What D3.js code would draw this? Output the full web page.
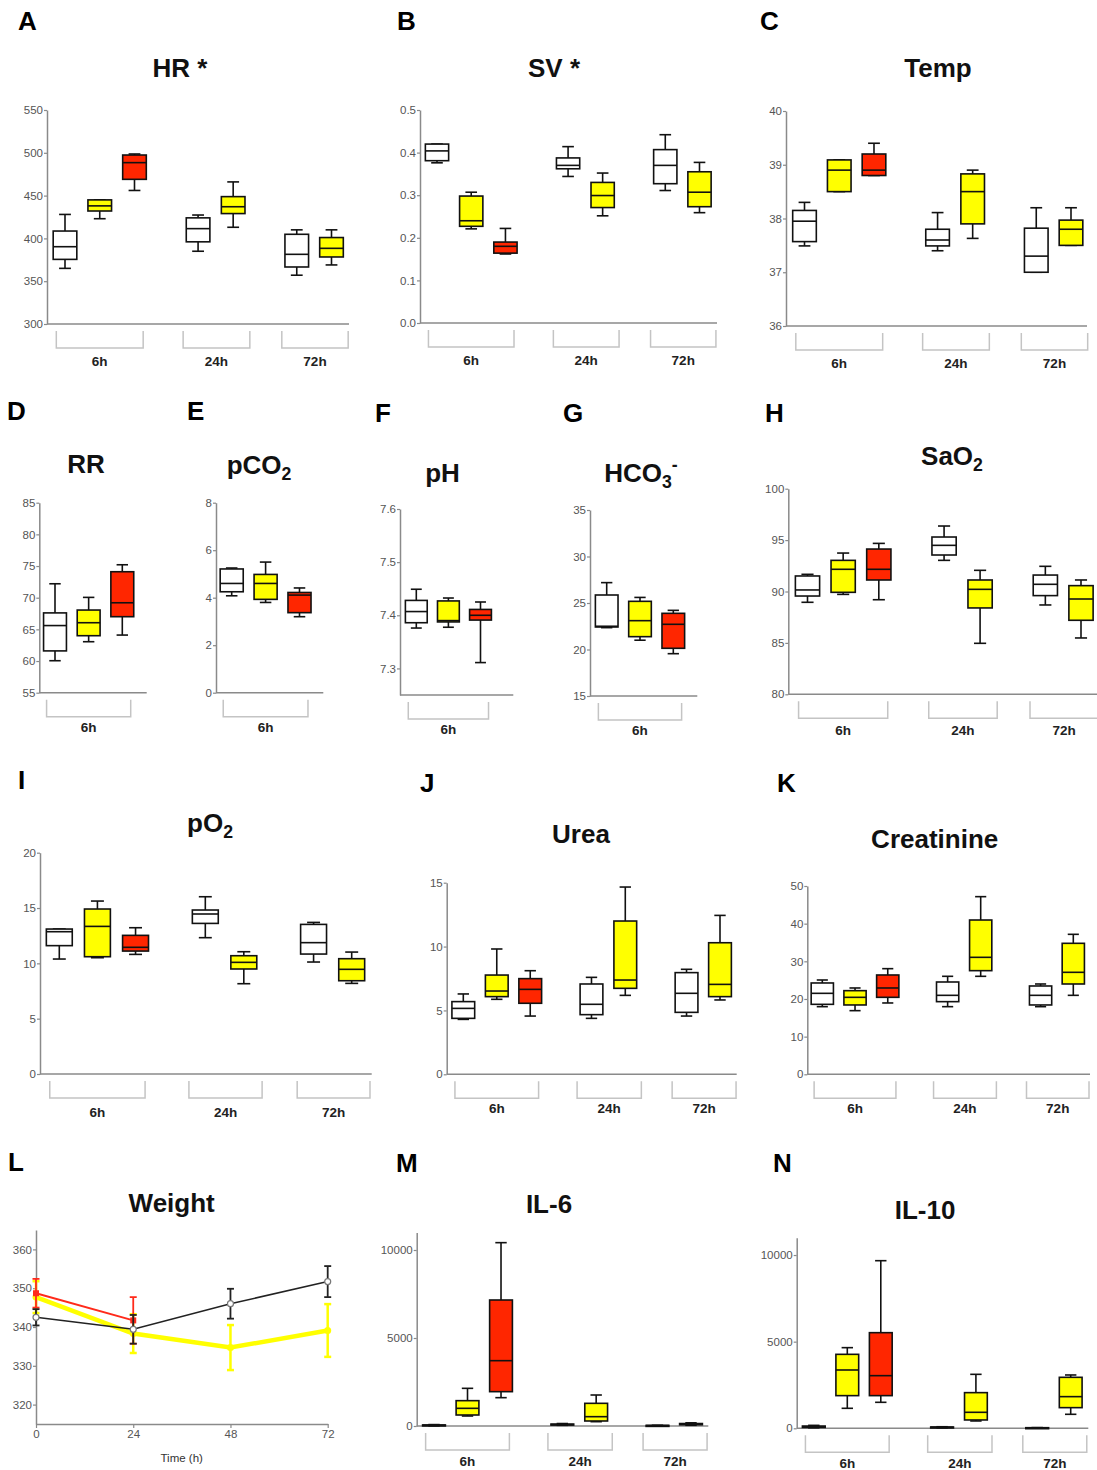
<!DOCTYPE html>
<html><head><meta charset="utf-8">
<script src="https://cdn.jsdelivr.net/npm/d3@7"></script>
<style>
html,body{margin:0;padding:0;background:#fff;}
svg{display:block;font-family:"Liberation Sans",Arial,Helvetica,sans-serif;}
</style></head>
<body>
<svg id="chart" width="1097" height="1470"></svg>
<script>
// ---------------- DATA ----------------
const groupsAll = ["6h", "24h", "72h"];
const groups6 = ["6h"];
const boxGroup3 = ["6h", "6h", "6h", "24h", "24h", "72h", "72h"];
const boxGroup1 = ["6h", "6h", "6h"];
const boxFill3 = ["white", "yellow", "red", "white", "yellow", "white", "yellow"];
const boxFill1 = ["white", "yellow", "red"];

// each box: [min, q1, median, q3, max]
const hrStats = [[365,375.5,390.3,408.6,428],[423,432,438,445,445],[456,469,488.5,497.4,498.6],
  [385,396,411.4,424,427.3],[413,429,437,448.8,466],[357,366.6,381.4,404.8,410],[369,378.3,388.4,401,410]];
const svStats = [[0.376,0.381,0.404,0.42,0.42],[0.221,0.227,0.24,0.298,0.307],[0.162,0.164,0.18,0.19,0.222],
  [0.344,0.362,0.37,0.3875,0.414],[0.2516,0.271,0.2992,0.33,0.352],[0.311,0.327,0.37,0.407,0.442],[0.259,0.273,0.307,0.355,0.377]];
const tempStats = [[37.49,37.57,37.95,38.15,38.3],[38.5,38.5,38.9,39.09,39.09],[38.8,38.8,38.9,39.2,39.4],
  [37.4,37.49,37.6,37.8,38.11],[37.63,37.9,38.5,38.83,38.9],[37.0,37.0,37.3,37.82,38.2],[37.5,37.5,37.8,37.97,38.2]];
const rrStats = [[60.05,61.6,65.6,67.6,72.2],[63.05,64,66.05,68.05,70.05],[64.1,67,69.2,74.1,75.2]];
const pco2Stats = [[4.08,4.25,4.6,5.21,5.25],[3.8,3.93,4.6,4.98,5.5],[3.2,3.37,4.11,4.22,4.41]];
const phStats = [[7.376,7.386,7.407,7.428,7.449],[7.3775,7.3875,7.39,7.427,7.4325],[7.311,7.391,7.40,7.411,7.425]];
const hco3Stats = [[22.35,22.42,22.5,25.86,27.19],[21.0,21.38,23.1,25.18,25.6],[19.55,20.13,22.71,23.89,24.21]];
const sao2Stats = [[88.95,89.56,90.15,91.51,91.67],[89.72,89.92,92.16,93.03,93.74],[89.2,91.12,92.16,94.13,94.68],
  [93.03,93.55,94.49,95.3,96.37],[84.96,88.4,90.21,91.12,92.06],[88.69,89.6,90.7,91.6,92.45],[85.48,87.2,89.27,90.57,91.12]];
const po2Stats = [[10.39,11.6,12.86,13.1,13.1],[10.51,10.6,13.34,14.91,15.63],[10.81,11.11,11.45,12.53,13.22],
  [12.32,13.61,14.46,14.82,16.02],[8.16,9.49,10.09,10.69,11.05],[10.12,10.84,11.87,13.52,13.7],[8.19,8.43,9.46,10.42,11.02]];
const ureaStats = [[4.3,4.38,5.16,5.69,6.29],[5.87,6.08,6.52,7.77,9.81],[4.56,5.56,6.65,7.49,8.11],
  [4.38,4.67,5.48,7.07,7.59],[6.18,6.73,7.38,12.0,14.66],[4.56,4.85,6.34,7.96,8.22],[5.82,6.08,7.04,10.3,12.44]];
const creatStats = [[17.96,18.58,21.5,24.25,25.04],[16.9,18.41,20.44,22.21,22.92],[18.94,20.44,22.92,26.37,28.05],
  [17.96,19.29,20.97,24.51,26.02],[26.02,27.52,31.06,40.97,47.17],[17.96,18.41,20.97,23.45,23.98],[20.97,23.98,27.08,34.78,37.17]];
const il6Stats = [[10,20,40,60,80],[568,625,1004,1440,2140],[1610,1951,3712,7159,10417],
  [40,60,80,110,140],[246,284,530,1288,1761],[10,15,25,35,40],[40,70,100,140,180]];
const il10Stats = [[30,50,90,130,170],[1154,1885,3365,4269,4654],[1500,1885,3038,5519,9673],
  [30,45,60,75,90],[423,481,923,2058,3115],[10,15,25,35,40],[808,1192,1827,2942,3077]];

const weightTimes = [0, 24, 48, 72];
const weightControl = [342.5, 339.4, 346.0, 351.7];
const weightControlErr = [2.1, 3.7, 3.85, 4.0];
const weightYellow = [347.7, 338.3, 334.7, 339.1];
const weightYellowErr = [4.1, 5.0, 5.8, 6.8];
const weightRedTimes = [0, 24];
const weightRed = [348.7, 341.7];
const weightRedErr = [3.7, 6.0];

const ticksHR = [300,350,400,450,500,550];
const ticksSV = [0,0.1,0.2,0.3,0.4,0.5];
const ticksTemp = [36,37,38,39,40];
const ticksRR = [55,60,65,70,75,80,85];
const ticksPCO2 = [0,2,4,6,8];
const ticksPH = [7.3,7.4,7.5,7.6];
const ticksHCO3 = [15,20,25,30,35];
const ticksSaO2 = [80,85,90,95,100];
const ticksPO2 = [0,5,10,15,20];
const ticksUrea = [0,5,10,15];
const ticksCreat = [0,10,20,30,40,50];
const ticksIL = [0,5000,10000];
const ticksWeightY = [320,330,340,350,360];

// ---------------- STYLE / LAYOUT ----------------
const fillColor = {white: "#ffffff", yellow: "#ffff00", red: "#ff2600"};
const slots3 = [0, 1, 2, 3.83, 4.84, 6.67, 7.67];
const slots1 = [0, 1, 2];
const bracketPad = {"6h": [-0.25, 0.25], "24h": [-0.43, 0.48], "72h": [-0.43, 0.48]};
const axisColor = "#8a8a8a", tickTextColor = "#555";

const svg = d3.select("#chart");

function drawTitle(x, y, parts, size) {
  size = size || 26;
  const t = svg.append("text").attr("x", x).attr("y", y).attr("text-anchor", "middle")
    .attr("font-size", size).attr("font-weight", "bold").attr("fill", "#111");
  let cur = 0;
  parts.forEach(p => {
    const target = p.sub ? 6 : p.sup ? -11 : 0;
    const ts = t.append("tspan").text(p.t).attr("dy", target - cur);
    if (p.sub || p.sup) ts.attr("font-size", size * 0.68);
    cur = target;
  });
}
function drawLetter(x, y, s) {
  svg.append("text").attr("x", x).attr("y", y).attr("font-size", 26).attr("font-weight", "bold")
    .attr("fill", "#000").text(s);
}
function styleAxis(g) {
  g.select(".domain").attr("stroke", axisColor).attr("stroke-width", 1.5);
  g.selectAll(".tick line").attr("stroke", axisColor).attr("stroke-width", 1.2);
  g.selectAll(".tick text").attr("fill", tickTextColor).attr("font-size", 11.5)
    .attr("font-family", "'Liberation Sans',Arial,sans-serif");
}

function boxPanel(c) {
  const y = d3.scaleLinear().domain(c.yDomain).range([c.yBot, c.yTop]);
  const x = d3.scaleLinear().domain([0, c.slots[c.slots.length - 1]]).range([c.c0, c.c1]);
  const spacing = (c.c1 - c.c0) / c.slots[c.slots.length - 1];
  const bw = spacing * 0.68;
  const g = svg.append("g");
  // y axis
  const ya = g.append("g").attr("transform", `translate(${c.x0},0)`)
    .call(d3.axisLeft(y).tickValues(c.ticks).tickSize(3).tickSizeOuter(0).tickPadding(1)
      .tickFormat(d3.format(c.fmt || "d")));
  styleAxis(ya);
  // x axis line
  g.append("line").attr("x1", c.x0).attr("x2", c.x1).attr("y1", c.yBot).attr("y2", c.yBot)
    .attr("stroke", axisColor).attr("stroke-width", 1.5);
  // group brackets
  const bt = c.yBot + 7, bb = c.yBot + 24;
  c.groups.forEach(gr => {
    const idx = c.boxGroups.map((d, i) => d === gr ? i : -1).filter(i => i >= 0);
    const xa = x(c.slots[idx[0]] + bracketPad[gr][0]);
    const xb = x(c.slots[idx[idx.length - 1]] + bracketPad[gr][1]);
    g.append("path").attr("d", `M${xa},${bt}V${bb}H${xb}V${bt}`).attr("fill", "none")
      .attr("stroke", "#c4c4c4").attr("stroke-width", 1.5);
    g.append("text").attr("x", (xa + xb) / 2).attr("y", c.yBot + (c.labelDy || 42))
      .attr("text-anchor", "middle").attr("font-size", 13.5).attr("font-weight", "bold")
      .attr("fill", "#222").text(gr);
  });
  // boxes
  c.data.forEach((s, i) => {
    const cx = x(c.slots[i]);
    const [mn, q1, md, q3, mx] = s;
    const bx = g.append("g").attr("stroke", "#111").attr("stroke-width", 1.6);
    bx.append("line").attr("x1", cx).attr("x2", cx).attr("y1", y(mx)).attr("y2", y(q3));
    bx.append("line").attr("x1", cx).attr("x2", cx).attr("y1", y(q1)).attr("y2", y(mn));
    bx.append("line").attr("x1", cx - bw / 4).attr("x2", cx + bw / 4).attr("y1", y(mx)).attr("y2", y(mx));
    bx.append("line").attr("x1", cx - bw / 4).attr("x2", cx + bw / 4).attr("y1", y(mn)).attr("y2", y(mn));
    bx.append("rect").attr("x", cx - bw / 2).attr("width", bw).attr("y", y(q3))
      .attr("height", Math.max(y(q1) - y(q3), 1)).attr("fill", fillColor[c.fills[i]]);
    bx.append("line").attr("x1", cx - bw / 2).attr("x2", cx + bw / 2).attr("y1", y(md)).attr("y2", y(md));
  });
  drawLetter(c.lx, c.ly, c.letter);
  drawTitle(c.tx, c.ty, c.title);
}

const P3 = {groups: groupsAll, boxGroups: boxGroup3, fills: boxFill3, slots: slots3};
const P1 = {groups: groups6, boxGroups: boxGroup1, fills: boxFill1, slots: slots1};

const panels = [
  {...P3, letter: "A", lx: 18, ly: 30, title: [{t: "HR *"}], tx: 180, ty: 77, data: hrStats, yDomain: [300, 550], ticks: ticksHR,
    x0: 47, x1: 349, yTop: 110, yBot: 324, c0: 65, c1: 331.5},
  {...P3, letter: "B", lx: 397, ly: 30, title: [{t: "SV *"}], tx: 554, ty: 77, data: svStats, yDomain: [0, 0.5], ticks: ticksSV, fmt: ".1f",
    x0: 420, x1: 717, yTop: 110, yBot: 323, c0: 437, c1: 699.5},
  {...P3, letter: "C", lx: 760, ly: 30, title: [{t: "Temp"}], tx: 938, ty: 77, data: tempStats, yDomain: [36, 40], ticks: ticksTemp,
    x0: 786, x1: 1087, yTop: 111, yBot: 326, c0: 804.5, c1: 1071},
  {...P1, letter: "D", lx: 7, ly: 420, title: [{t: "RR"}], tx: 86, ty: 473, data: rrStats, yDomain: [55, 85], ticks: ticksRR, labelDy: 39,
    x0: 39.3, x1: 146.7, yTop: 502.7, yBot: 692.7, c0: 55, c1: 122.3},
  {...P1, letter: "E", lx: 187, ly: 420, title: [{t: "pCO"}, {t: "2", sub: true}], tx: 259, ty: 474, data: pco2Stats, yDomain: [0, 8], ticks: ticksPCO2, labelDy: 39,
    x0: 216, x1: 323.3, yTop: 502.7, yBot: 692.7, c0: 231.7, c1: 299.5},
  {...P1, letter: "F", lx: 375, ly: 421.7, title: [{t: "pH"}], tx: 442.5, ty: 481.7, data: phStats, yDomain: [7.25, 7.6], ticks: ticksPH, fmt: ".1f", labelDy: 39,
    x0: 400, x1: 513.3, yTop: 509, yBot: 695, c0: 416.3, c1: 480.5},
  {...P1, letter: "G", lx: 563, ly: 421.7, title: [{t: "HCO"}, {t: "3", sub: true}, {t: "-", sup: true}], tx: 641, ty: 481.7, data: hco3Stats, yDomain: [15, 35], ticks: ticksHCO3, labelDy: 39,
    x0: 590, x1: 697.3, yTop: 510, yBot: 696, c0: 606.7, c1: 673.3},
  {...P3, letter: "H", lx: 765, ly: 421.7, title: [{t: "SaO"}, {t: "2", sub: true}], tx: 952, ty: 465, data: sao2Stats, yDomain: [80, 100], ticks: ticksSaO2, labelDy: 41,
    x0: 788.3, x1: 1097, yTop: 488.7, yBot: 694.3, c0: 807.5, c1: 1081},
  {...P3, letter: "I", lx: 18, ly: 789, title: [{t: "pO"}, {t: "2", sub: true}], tx: 210, ty: 831.7, data: po2Stats, yDomain: [0, 20], ticks: ticksPO2, labelDy: 43,
    x0: 40, x1: 371.7, yTop: 852.7, yBot: 1074, c0: 59.3, c1: 351.7},
  {...P3, letter: "J", lx: 420, ly: 791.7, title: [{t: "Urea"}], tx: 581, ty: 843.3, data: ureaStats, yDomain: [0, 15], ticks: ticksUrea, labelDy: 39,
    x0: 446.7, x1: 736.7, yTop: 882.7, yBot: 1074.3, c0: 463.3, c1: 720},
  {...P3, letter: "K", lx: 777, ly: 792.3, title: [{t: "Creatinine"}], tx: 934.7, ty: 848.3, data: creatStats, yDomain: [0, 50], ticks: ticksCreat, labelDy: 39,
    x0: 807.3, x1: 1090, yTop: 886, yBot: 1074.3, c0: 822.3, c1: 1073.3},
  {...P3, letter: "M", lx: 396, ly: 1172, title: [{t: "IL-6"}], tx: 549, ty: 1212.7, data: il6Stats, yDomain: [0, 11000], ticks: ticksIL, labelDy: 40,
    x0: 416.7, x1: 708.3, yTop: 1232.4, yBot: 1426, c0: 434, c1: 691},
  {...P3, letter: "N", lx: 773, ly: 1171.7, title: [{t: "IL-10"}], tx: 925, ty: 1219, data: il10Stats, yDomain: [0, 11000], ticks: ticksIL, labelDy: 40,
    x0: 796.7, x1: 1088.3, yTop: 1237.7, yBot: 1428.3, c0: 813.8, c1: 1070.7}
];
panels.forEach(boxPanel);

// ---------------- PANEL L: Weight ----------------
(function () {
  const x = d3.scaleLinear().domain([0, 72]).range([36, 327.7]);
  const y = d3.scaleLinear().domain([315, 365]).range([1424, 1230]);
  const g = svg.append("g");
  const ya = g.append("g").attr("transform", "translate(36,0)")
    .call(d3.axisLeft(y).tickValues(ticksWeightY).tickSize(3).tickSizeOuter(0).tickPadding(1));
  styleAxis(ya);
  const xa = g.append("g").attr("transform", "translate(0,1424)")
    .call(d3.axisBottom(x).tickValues(weightTimes).tickSize(4).tickSizeOuter(0).tickPadding(2));
  styleAxis(xa);
  g.append("text").attr("x", 181.7).attr("y", 1462).attr("text-anchor", "middle")
    .attr("font-size", 11.5).attr("fill", "#333").text("Time (h)");

  function series(times, vals, errs, color, lw, capW, marker) {
    const line = d3.line().x((d, i) => x(times[i])).y(d => y(d));
    const sg = g.append("g");
    sg.append("path").datum(vals).attr("d", line).attr("fill", "none").attr("stroke", color).attr("stroke-width", lw);
    vals.forEach((v, i) => {
      const cx = x(times[i]);
      const ew = color === "#ffff00" ? 2.5 : 1.8;
      sg.append("line").attr("x1", cx).attr("x2", cx).attr("y1", y(v + errs[i])).attr("y2", y(v - errs[i]))
        .attr("stroke", color).attr("stroke-width", ew);
      [v + errs[i], v - errs[i]].forEach(e => sg.append("line").attr("x1", cx - capW).attr("x2", cx + capW)
        .attr("y1", y(e)).attr("y2", y(e)).attr("stroke", color).attr("stroke-width", ew));
      if (marker === "circle") sg.append("circle").attr("cx", cx).attr("cy", y(v)).attr("r", 3)
        .attr("fill", "#fff").attr("stroke", "#777").attr("stroke-width", 1.2);
      else if (marker === "dot") sg.append("circle").attr("cx", cx).attr("cy", y(v)).attr("r", 3.5).attr("fill", color);
      else if (marker === "square") sg.append("rect").attr("x", cx - 3).attr("y", y(v) - 3).attr("width", 6).attr("height", 6).attr("fill", color);
    });
  }
  series(weightTimes, weightYellow, weightYellowErr, "#ffff00", 4.5, 3.5, "dot");
  series(weightRedTimes, weightRed, weightRedErr, "#ff2a1a", 2, 3.5, "square");
  series(weightTimes, weightControl, weightControlErr, "#222", 1.5, 3.5, "circle");

  drawLetter(8, 1170.7, "L");
  drawTitle(171.7, 1211.7, [{t: "Weight"}]);
})();
</script>
</body></html>
